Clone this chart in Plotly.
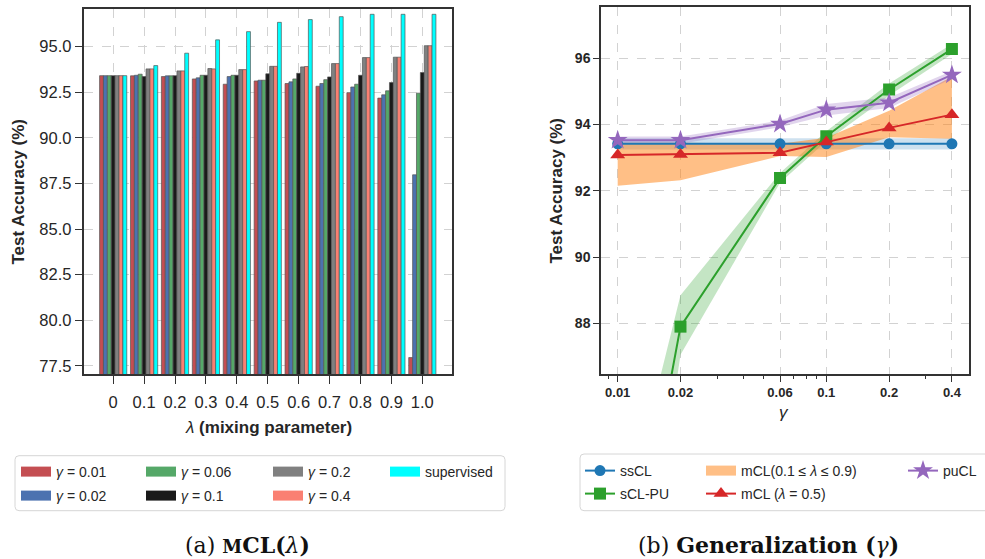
import plotly.graph_objects as go

W, H = 985, 559

# ---------------- (a) mCL(lambda): test accuracy per mixing parameter ----------------
lambda_labels = ["0", "0.1", "0.2", "0.3", "0.4", "0.5", "0.6", "0.7", "0.8", "0.9", "1.0"]

acc_gamma_001 = [93.40, 93.39, 93.35, 93.22, 92.93, 93.11, 92.97, 92.82, 92.47, 92.17, 77.96]
acc_gamma_002 = [93.40, 93.42, 93.39, 93.28, 93.35, 93.15, 93.06, 92.97, 92.78, 92.35, 87.97]
acc_gamma_006 = [93.40, 93.48, 93.39, 93.42, 93.42, 93.15, 93.22, 93.18, 92.93, 92.57, 92.44]
acc_gamma_01 = [93.40, 93.35, 93.40, 93.42, 93.42, 93.50, 93.53, 93.33, 93.42, 93.02, 93.57]
acc_gamma_02 = [93.40, 93.77, 93.66, 93.79, 93.73, 93.91, 93.88, 94.06, 94.39, 94.41, 95.04]
acc_gamma_04 = [93.40, 93.77, 93.66, 93.77, 93.73, 93.91, 93.90, 94.06, 94.39, 94.41, 95.04]
acc_supervised = [93.40, 93.95, 94.63, 95.36, 95.81, 96.32, 96.47, 96.63, 96.76, 96.76, 96.76]

bar_names = ["<i>γ</i> = 0.01", "<i>γ</i> = 0.02", "<i>γ</i> = 0.06", "<i>γ</i> = 0.1",
             "<i>γ</i> = 0.2", "<i>γ</i> = 0.4", "supervised"]
bar_values = [acc_gamma_001, acc_gamma_002, acc_gamma_006, acc_gamma_01,
              acc_gamma_02, acc_gamma_04, acc_supervised]

# ---------------- (b) Generalization over gamma ----------------
gammas = [0.01, 0.02, 0.06, 0.1, 0.2, 0.4]
gamma_labels = ["0.01", "0.02", "0.06", "0.1", "0.2", "0.4"]

sscl = [93.42, 93.42, 93.42, 93.42, 93.42, 93.42]
sscl_lo = [93.25, 93.25, 93.25, 93.25, 93.25, 93.25]
sscl_hi = [93.59, 93.59, 93.59, 93.59, 93.59, 93.59]

scl_pu = [77.70, 87.90, 92.39, 93.65, 95.06, 96.28]
scl_pu_lo = [74.20, 87.05, 92.24, 93.50, 94.88, 96.13]
scl_pu_hi = [81.20, 88.85, 92.54, 93.80, 95.24, 96.43]

mcl_range_lo = [92.15, 92.32, 93.05, 93.02, 93.62, 93.57]
mcl_range_hi = [93.45, 93.45, 93.42, 93.60, 94.42, 95.45]
mcl_half = [93.08, 93.10, 93.15, 93.47, 93.90, 94.30]

pucl = [93.53, 93.53, 94.02, 94.45, 94.66, 95.50]
pucl_lo = [93.42, 93.42, 93.92, 94.27, 94.50, 95.38]
pucl_hi = [93.64, 93.64, 94.12, 94.62, 94.82, 95.62]

# ---------------- styling ----------------
SANS = "Liberation Sans, Arial, sans-serif"
SERIF = "DejaVu Serif, serif"
INK = "#262626"
GRID = "#d2d2d2"

bar_colors = ["#C44E52", "#4C72B0", "#55A868", "#1a1a1a", "#808080", "#FA8072", "#00FFFF"]
bar_legend = ["legend", "legend2", "legend", "legend2", "legend", "legend2", "legend"]
bar_legendwidth = [80, 80, 82, 82, 72, 72, 80]

C_BLUE, C_GREEN, C_ORANGE, C_RED, C_PURPLE = "#1f77b4", "#2ca02c", "#ff7f0e", "#d62728", "#9467bd"


def px_x(p):
    return p / W


def px_y(p):
    return 1 - p / H


fig = go.Figure()

# grouped bars
for name, vals, col in zip(bar_names, bar_values, bar_colors):
    fig.add_trace(go.Bar(
        x=lambda_labels, y=vals, name=name, marker=dict(color=col, line=dict(color="#555555", width=0.7)),
        xaxis="x", yaxis="y", showlegend=False, hoverinfo="x+y+name"))

# legend swatches for the bar series
for name, col, lg, lw in zip(bar_names, bar_colors, bar_legend, bar_legendwidth):
    fig.add_trace(go.Scatter(
        x=[None], y=[None], mode="lines", name=name, line=dict(color=col, width=10),
        xaxis="x", yaxis="y", legend=lg, legendwidth=lw, hoverinfo="skip"))


def band(lo, hi, fillcolor):
    fig.add_trace(go.Scatter(x=gammas, y=lo, mode="lines", line=dict(width=0, color=fillcolor),
                             xaxis="x2", yaxis="y2", showlegend=False, hoverinfo="skip", legend="legend3"))
    fig.add_trace(go.Scatter(x=gammas, y=hi, mode="lines", line=dict(width=0, color=fillcolor),
                             fill="tonexty", fillcolor=fillcolor, legend="legend3",
                             xaxis="x2", yaxis="y2", showlegend=False, hoverinfo="skip"))


band(sscl_lo, sscl_hi, "rgba(31,119,180,0.22)")
band(scl_pu_lo, scl_pu_hi, "rgba(44,160,44,0.28)")
band(mcl_range_lo, mcl_range_hi, "rgba(255,127,14,0.5)")
band(pucl_lo, pucl_hi, "rgba(148,103,189,0.28)")

fig.add_trace(go.Scatter(x=gammas, y=sscl, name="ssCL", mode="lines+markers",
                         line=dict(color=C_BLUE, width=2), marker=dict(symbol="circle", size=11, color=C_BLUE),
                         xaxis="x2", yaxis="y2", legend="legend3", legendwidth=76))
fig.add_trace(go.Scatter(x=gammas, y=scl_pu, name="sCL-PU", mode="lines+markers",
                         line=dict(color=C_GREEN, width=2), marker=dict(symbol="square", size=12, color=C_GREEN),
                         xaxis="x2", yaxis="y2", legend="legend4", legendwidth=76))
fig.add_trace(go.Scatter(x=[None], y=[None], name="mCL(0.1 ≤ <i>λ</i> ≤ 0.9)", mode="lines",
                         line=dict(color="rgba(255,127,14,0.5)", width=10),
                         xaxis="x2", yaxis="y2", legend="legend3", legendwidth=157, hoverinfo="skip"))
fig.add_trace(go.Scatter(x=gammas, y=mcl_half, name="mCL (<i>λ</i> = 0.5)", mode="lines+markers",
                         line=dict(color=C_RED, width=2), marker=dict(symbol="triangle-up", size=13, color=C_RED),
                         xaxis="x2", yaxis="y2", legend="legend4", legendwidth=157))
fig.add_trace(go.Scatter(x=gammas, y=pucl, name="puCL", mode="lines+markers",
                         line=dict(color=C_PURPLE, width=2), marker=dict(symbol="star", size=15, color=C_PURPLE),
                         xaxis="x2", yaxis="y2", legend="legend3", legendwidth=60))

axis_common = dict(showline=True, mirror=True, linecolor="#333333", linewidth=1.5,
                   showgrid=True, gridcolor=GRID, griddash="dash", gridwidth=1,
                   zeroline=False, ticks="outside", tickcolor="#333333", tickwidth=1.2)

legend_common = dict(orientation="h", xanchor="left", yanchor="top", bgcolor="rgba(0,0,0,0)",
                     borderwidth=0, font=dict(family=SANS, size=14, color=INK),
                     entrywidthmode="pixels", tracegroupgap=0, traceorder="normal")

fig.update_layout(
    width=W, height=H,
    margin=dict(l=0, r=0, t=0, b=0, autoexpand=False),
    paper_bgcolor="white", plot_bgcolor="white",
    barmode="group", bargap=0.12, bargroupgap=0,
    xaxis=dict(axis_common, domain=[px_x(83.5), px_x(452)], anchor="y", type="category",
               categoryorder="array", categoryarray=lambda_labels, range=[-0.96, 10.96],
               ticklen=8, ticklabelstandoff=4, tickfont=dict(family=SANS, size=16.5, color=INK)),
    yaxis=dict(axis_common, domain=[px_y(374), px_y(9)], anchor="x", range=[77.06, 97.05],
               tickmode="linear", tick0=77.5, dtick=2.5, tickformat=".1f",
               ticklen=7, tickfont=dict(family=SANS, size=16.5, color=INK)),
    xaxis2=dict(axis_common, domain=[px_x(601), px_x(969)], anchor="y2", type="log",
                range=[-2.080, -0.316], tickvals=gammas, ticktext=gamma_labels,
                ticklen=6, tickfont=dict(family=SANS, size=13, color=INK, weight="bold"),
                minor=dict(ticks="outside", ticklen=3.5, tickcolor="#333333", tickwidth=1, showgrid=False,
                           tickvals=[0.009, 0.03, 0.04, 0.05, 0.07, 0.08, 0.09, 0.3])),
    yaxis2=dict(axis_common, domain=[px_y(374), px_y(7.3)], anchor="x2", range=[86.47, 97.54],
                tickmode="linear", tick0=88, dtick=2,
                ticklen=6, tickfont=dict(family=SANS, size=14, color=INK, weight="bold")),
    legend=dict(legend_common, x=px_x(16), y=px_y(456)),
    legend2=dict(legend_common, x=px_x(16), y=px_y(480)),
    legend3=dict(legend_common, x=px_x(580), y=px_y(455)),
    legend4=dict(legend_common, x=px_x(580), y=px_y(478)),
    showlegend=True,
)


def rounded_box(x0, y0, x1, y1, r=4):
    rx, ry = r / W, r / H
    a, b, c, d = px_x(x0), px_x(x1), px_y(y1), px_y(y0)
    path = (f"M{a + rx},{c} L{b - rx},{c} Q{b},{c} {b},{c + ry} L{b},{d - ry} Q{b},{d} {b - rx},{d} "
            f"L{a + rx},{d} Q{a},{d} {a},{d - ry} L{a},{c + ry} Q{a},{c} {a + rx},{c} Z")
    return dict(type="path", xref="paper", yref="paper", path=path,
                line=dict(color="#d6d6d6", width=1), fillcolor="white", layer="above")


fig.add_shape(rounded_box(15, 455.7, 505, 510.7))
fig.add_shape(rounded_box(580, 454, 1000, 510.7))

# axis titles and panel captions
ann = [
    dict(text="<b>Test Accuracy (%)</b>", x=px_x(18), y=px_y(191.5), textangle=-90,
         font=dict(family=SANS, size=17, color=INK)),
    dict(text="<i>λ</i> <b>(mixing parameter)</b>", x=px_x(268), y=px_y(427),
         font=dict(family=SANS, size=17, color=INK)),
    dict(text="<b>Test Accuracy (%)</b>", x=px_x(556), y=px_y(190.5), textangle=-90,
         font=dict(family=SANS, size=17, color=INK)),
    dict(text="<i>γ</i>", x=px_x(784), y=px_y(412), font=dict(family=SANS, size=17, color=INK)),
    dict(text="(a) <b><span style='font-size:18px'>M</span>CL(</b><i>λ</i><b>)</b>", x=px_x(247), y=px_y(545),
         font=dict(family=SERIF, size=22, color="#111111")),
    dict(text="(b) <b>Generalization (</b><i>γ</i><b>)</b>", x=px_x(768), y=px_y(545),
         font=dict(family=SERIF, size=22, color="#111111")),
]
for a in ann:
    fig.add_annotation(dict(a, xref="paper", yref="paper", showarrow=False, xanchor="center", yanchor="middle"))

fig.write_html("out.html")
